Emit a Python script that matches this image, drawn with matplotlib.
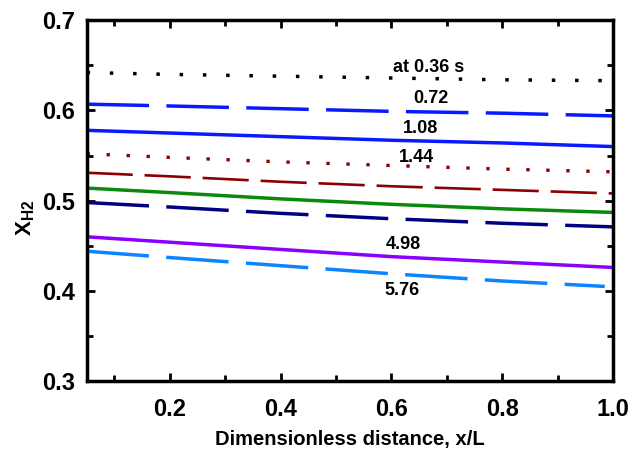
import matplotlib
matplotlib.use('Agg')
import matplotlib.pyplot as plt
from matplotlib.ticker import MultipleLocator

plt.rcParams['font.family'] = ['Liberation Sans', 'DejaVu Sans']
plt.rcParams['font.weight'] = 'bold'
plt.rcParams['mathtext.fontset'] = 'custom'
plt.rcParams['mathtext.rm'] = 'Liberation Sans:bold'
plt.rcParams['mathtext.bf'] = 'Liberation Sans:bold'

# positions along the reactor (x/L) where values were read
x = [0.05, 0.2, 0.4, 0.6, 0.8, 1.0]

# H2 mole fraction at different times
y_036 = [0.642, 0.640, 0.638, 0.636, 0.634, 0.633]
y_072 = [0.607, 0.605, 0.602, 0.599, 0.597, 0.594]
y_108 = [0.578, 0.575, 0.571, 0.567, 0.564, 0.560]
y_144 = [0.552, 0.548, 0.543, 0.539, 0.535, 0.532]
y_216 = [0.531, 0.527, 0.521, 0.516, 0.512, 0.508]
y_288 = [0.514, 0.509, 0.502, 0.496, 0.491, 0.487]
y_360 = [0.498, 0.493, 0.486, 0.480, 0.475, 0.471]
y_498 = [0.460, 0.454, 0.446, 0.438, 0.432, 0.426]
x_576 = [0.05, 0.2, 0.4, 0.6, 0.8, 0.985]
y_576 = [0.444, 0.437, 0.428, 0.419, 0.411, 0.405]

labels = ['at 0.36 s', '0.72', '1.08', '1.44', '4.98', '5.76']
label_x = [0.667, 0.671, 0.653, 0.646, 0.622, 0.620]
label_y = [0.648, 0.613, 0.580, 0.548, 0.452, 0.401]

fig = plt.figure(figsize=(6.32, 4.5), dpi=100)
ax = fig.add_axes([0.137, 0.153, 0.833, 0.802])

lw = 2.5
ax.plot(x, y_036, color='black', lw=2.5, linestyle=(0, (1, 5.7)))
ax.plot(x, y_072, color='#0a1aff', lw=lw, linestyle=(0, (18, 5)))
ax.plot(x, y_108, color='#0a1aff', lw=lw, linestyle='-')
ax.plot(x, y_144, color='#8b0000', lw=2.4, linestyle=(0, (1, 5)))
ax.plot(x, y_216, color='#8b0000', lw=1.9, linestyle=(0, (17.5, 4.5)))
ax.plot(x, y_288, color='#0a8a0a', lw=lw, linestyle='-')
ax.plot(x, y_360, color='#000080', lw=lw, linestyle=(0, (18, 5)))
ax.plot(x, y_498, color='#8a00ff', lw=lw, linestyle='-')
ax.plot(x_576, y_576, color='#0a84ff', lw=lw, linestyle=(0, (18, 5)))

for t, lx, ly in zip(labels, label_x, label_y):
    ax.text(lx, ly, t, ha='center', va='center', fontsize=13, fontweight='bold')

ax.set_xlim(0.05, 1.0)
ax.set_ylim(0.3, 0.7)
ax.xaxis.set_minor_locator(MultipleLocator(0.1))
ax.yaxis.set_minor_locator(MultipleLocator(0.05))
ax.set_xticks([0.2, 0.4, 0.6, 0.8, 1.0])
ax.set_xticklabels(['0.2', '0.4', '0.6', '0.8', '1.0'])
ax.set_yticks([0.3, 0.4, 0.5, 0.6, 0.7])
ax.set_yticklabels(['0.3', '0.4', '0.5', '0.6', '0.7'])

ax.tick_params(which='both', direction='in', top=True, right=True, width=2)
ax.tick_params(which='major', length=6, labelsize=17)
ax.tick_params(which='minor', length=4)
ax.tick_params(axis='x', which='major', pad=12)
ax.tick_params(axis='y', which='major', pad=8)
for s in ax.spines.values():
    s.set_linewidth(2.5)

ax.set_xlabel('Dimensionless distance, x/L', fontsize=14.5, fontweight='bold')
ax.xaxis.set_label_coords(0.5, -0.135)
ax.set_ylabel(r'X$_{\mathbf{H2}}$', fontsize=16, fontweight='bold')
ax.yaxis.set_label_coords(-0.095, 0.453)

fig.savefig('out.png', dpi=100)
